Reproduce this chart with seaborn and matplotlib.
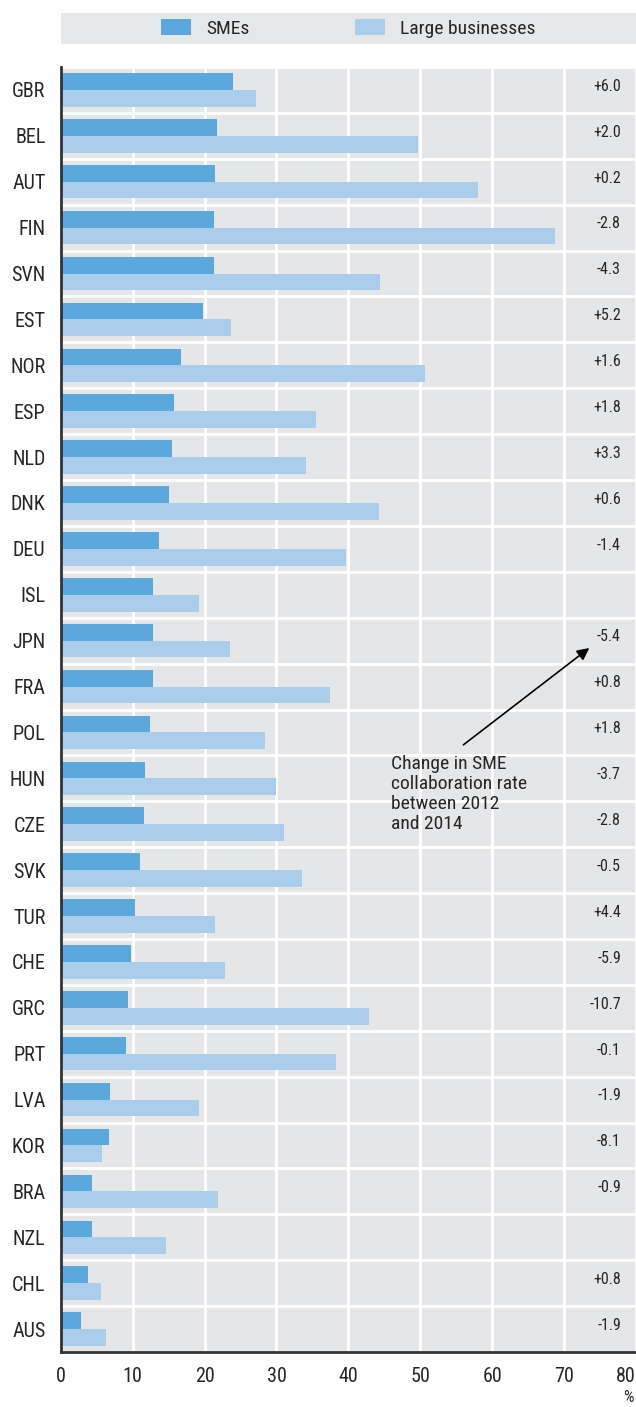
import matplotlib
matplotlib.use("Agg")
import matplotlib.pyplot as plt
from matplotlib.patches import Rectangle
import seaborn as sns
import pandas as pd
import numpy as np

countries = ["GBR", "BEL", "AUT", "FIN", "SVN", "EST", "NOR", "ESP", "NLD", "DNK",
             "DEU", "ISL", "JPN", "FRA", "POL", "HUN", "CZE", "SVK", "TUR", "CHE",
             "GRC", "PRT", "LVA", "KOR", "BRA", "NZL", "CHL", "AUS"]
smes = [24.0, 21.7, 21.4, 21.3, 21.3, 19.8, 16.7, 15.8, 15.5, 15.0,
        13.6, 12.9, 12.8, 12.8, 12.4, 11.7, 11.6, 11.0, 10.3, 9.8,
        9.4, 9.1, 6.8, 6.7, 4.4, 4.4, 3.8, 2.8]
large = [27.1, 49.7, 58.0, 68.8, 44.4, 23.7, 50.7, 35.5, 34.1, 44.2,
         39.7, 19.3, 23.6, 37.4, 28.4, 29.9, 31.0, 33.5, 21.4, 22.8,
         42.9, 38.3, 19.3, 5.8, 21.9, 14.7, 5.6, 6.3]
changes = [6.0, 2.0, 0.2, -2.8, -4.3, 5.2, 1.6, 1.8, 3.3, 0.6,
           -1.4, None, -5.4, 0.8, 1.8, -3.7, -2.8, -0.5, 4.4, -5.9,
           -10.7, -0.1, -1.9, -8.1, -0.9, None, 0.8, -1.9]
series_names = ["SMEs", "Large businesses"]
x_ticks = [0, 10, 20, 30, 40, 50, 60, 70, 80]
annotation_text = "Change in SME\ncollaboration rate\nbetween 2012\nand 2014"

sns.set_theme(style="white")
plt.rcParams["font.family"] = ["Roboto Condensed", "DejaVu Sans"]

df = pd.DataFrame({
    "country": countries * 2,
    "value": smes + large,
    "series": [series_names[0]] * len(countries) + [series_names[1]] * len(countries),
})

W, H = 636, 1407
fig = plt.figure(figsize=(W / 100, H / 100), dpi=100)
ax_left = 60.7 / W
ax_bottom = 1 - 1352 / H
ax_top = 1 - 67 / H
ax = fig.add_axes([ax_left, ax_bottom, 1 - ax_left, ax_top - ax_bottom])

c_sme = "#5ba8dd"
c_large = "#abcdec"
bg = "#e5e6e8"
txt = "#262626"
ax.set_facecolor(bg)

sns.barplot(data=df, y="country", x="value", hue="series", orient="h",
            palette=[c_sme, c_large], saturation=1, width=0.73, linewidth=0, ax=ax,
            order=countries, hue_order=series_names)

leg = ax.get_legend()
handles, labels = ax.get_legend_handles_labels()
if leg is not None:
    leg.remove()

ax.set_xlim(0, 80)
ax.set_ylim(len(countries) - 0.5, -0.5)
ax.set_xticks(x_ticks)
xt_labels = ax.set_xticklabels([str(t) for t in x_ticks])
xt_labels[-1].set_horizontalalignment("right")
ax.set_xlabel("")
ax.set_ylabel("")

# grid
ax.set_axisbelow(True)
ax.xaxis.grid(True, color="white", linewidth=2)
ax.set_yticks(np.arange(len(countries) + 1) - 0.5, minor=True)
ax.yaxis.grid(True, which="minor", color="white", linewidth=2)
ax.tick_params(axis="y", which="major", length=0, pad=11, labelsize=14.5, labelcolor=txt)
ax.tick_params(axis="y", which="minor", direction="in", length=7, width=1.2, color="#444444")
ax.tick_params(axis="x", which="major", direction="in", length=7, width=1.2, color="#333333",
               pad=11, labelsize=14.5, labelcolor=txt)

for side in ["top", "right"]:
    ax.spines[side].set_visible(False)
ax.spines["left"].set_color("#333333")
ax.spines["left"].set_linewidth(2)
ax.spines["bottom"].set_color("#333333")
ax.spines["bottom"].set_linewidth(2)

# change labels
for i, c in enumerate(changes):
    if c is None:
        continue
    ax.text(77.9, i - 0.08, f"{c:+.1f}", ha="right", va="center", fontsize=11.5, color=txt)

# annotation
ax.annotate("", xy=(73.5, 12.16), xytext=(56.0, 14.27),
            arrowprops=dict(arrowstyle="-|>", color="black", lw=1.2, mutation_scale=18,
                            shrinkA=0, shrinkB=0))
ax.text(46.0, 14.5, annotation_text, ha="left", va="top", fontsize=14, color=txt,
        linespacing=1.13)

# legend band
fig.patches.append(Rectangle((ax_left, 1 - 44 / H), 1 - ax_left, 31 / H,
                             transform=fig.transFigure, facecolor="#e6e7e9",
                             edgecolor="none", zorder=0))
fig.legend(handles, labels, loc="center", bbox_to_anchor=((ax_left + 1) / 2, 1 - 28.5 / H),
           ncol=2, frameon=False, fontsize=14, handlelength=1.55, handleheight=0.85,
           handletextpad=0.8, columnspacing=5.4, labelcolor=txt)

fig.text(628 / W, 1 - 1397 / H, "%", ha="center", va="center", fontsize=12, color=txt)

fig.savefig("out.png", dpi=100)
